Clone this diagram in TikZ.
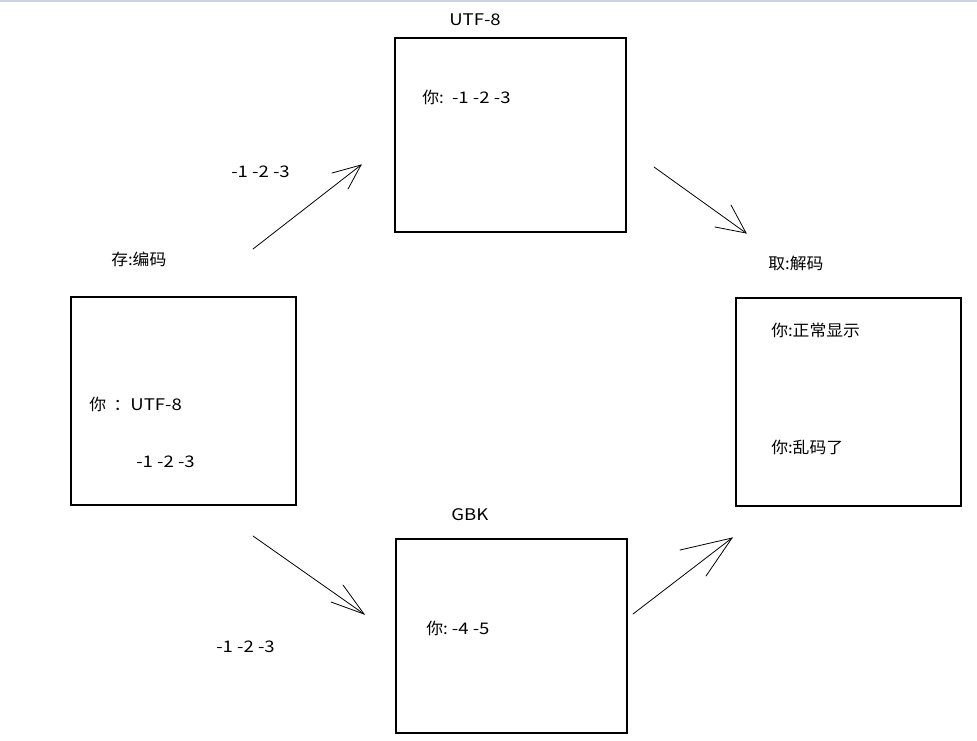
\documentclass[tikz,border=0pt]{standalone}
\usepackage{fontspec}
\setmainfont[FakeStretch=1.05]{Noto Sans CJK SC}
% Latin runs are set a little wider
\newfontfamily\lat[FakeStretch=1.16]{Noto Sans CJK SC}
\begin{document}
\begin{tikzpicture}[x=0.75pt,y=-0.75pt,
  box/.style={draw=black,line width=0.8pt},
  lbl/.style={anchor=west,inner sep=0pt,font=\fontsize{12pt}{14pt}\selectfont},
  stroke/.style={line width=0.6pt,line cap=round}]
\useasboundingbox (0,0) rectangle (977,740);
% thin rule along the top edge
\fill[fill={rgb,255:red,201;green,211;blue,227}] (0,0) rectangle (977,1.6);

% boxes
\draw[box] (71,297) rectangle (296,505);
\draw[box] (395,38) rectangle (626,232);
\draw[box] (396,539) rectangle (627,733);
\draw[box] (736,298) rectangle (961,506);

% headings
\node[lbl] (hutf) at (449,20) {\lat UTF-8};
\node[lbl] (hgbk) at (451,515) {\lat GBK};
\node[lbl] (hstore) at (111,259) {存:编码};
\node[lbl] (hload) at (768,263) {取:解码};

% box contents
\node[lbl] (s1) at (89,404) {你\ \ ：{\lat UTF-8}};
\node[lbl] (s2) at (136,462) {\lat -1 -2 -3};
\node[lbl] (u1) at (422,97) {你:{\lat\ \ -1 -2 -3}};
\node[lbl] (g1) at (426,628) {你:{\lat\ -4 -5}};
\node[lbl] (r1) at (771,330) {你:正常显示};
\node[lbl] (r2) at (771,447) {你:乱码了};

% byte labels beside the arrows
\node[lbl] (b1) at (231,172) {\lat -1 -2 -3};
\node[lbl] (b2) at (216,647) {\lat -1 -2 -3};

% arrow end points
\coordinate (a1s) at (253,249); \coordinate (a1t) at (361,165);
\coordinate (a1l) at (332,173); \coordinate (a1r) at (348,189);
\coordinate (a2s) at (654,167); \coordinate (a2t) at (746,233);
\coordinate (a2l) at (715,227); \coordinate (a2r) at (731,205);
\coordinate (a3s) at (253,536); \coordinate (a3t) at (364,614);
\coordinate (a3l) at (331,602); \coordinate (a3r) at (343,585);
\coordinate (a4s) at (633,614); \coordinate (a4t) at (732,538);
\coordinate (a4l) at (680,550); \coordinate (a4r) at (706,576);

% arrows with open, hand-drawn heads
\foreach \a in {a1,a2,a3,a4}{
  \draw[stroke] (\a s) -- (\a t);
  \draw[stroke] (\a l) -- (\a t) -- (\a r);
}
\end{tikzpicture}
\end{document}
